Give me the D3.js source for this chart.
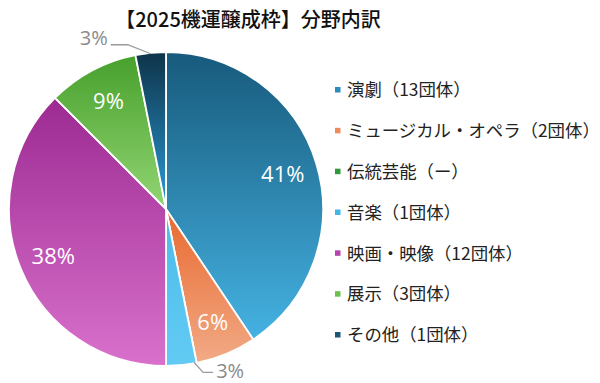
<!DOCTYPE html>
<html><head><meta charset="utf-8">
<script src="https://cdn.jsdelivr.net/npm/d3@7"></script>
<style>body{margin:0;background:#fff;}svg{display:block;font-family:"Noto Sans CJK JP","Noto Sans",sans-serif;}</style>
</head><body>
<svg id="c" width="600" height="383"></svg>
<script>
const title = "【2025機運醸成枠】分野内訳";
const categories = ["演劇","ミュージカル・オペラ","伝統芸能","音楽","映画・映像","展示","その他"];
const legendLabels = ["演劇（13団体）","ミュージカル・オペラ（2団体）","伝統芸能（ー）","音楽（1団体）","映画・映像（12団体）","展示（3団体）","その他（1団体）"];
const values = [13, 2, 0, 1, 12, 3, 1];
const topColors = ["#175a7c","#e8692f","#2f8f2f","#4bbbe8","#9c2a92","#47a02c","#0e3349"];
const bottomColors = ["#45b2e2","#f2aa86","#6cc46c","#62cbf4","#d971cc","#92d574","#2b9bd6"];
const legendColors = ["#2a8bbd","#ef8a5c","#2e9a3a","#3fb6e6","#b444ae","#6cc04e","#1b5674"];

const svg = d3.select("#c");
const cx = 166, cy = 209, r = 157;
const total = d3.sum(values);

svg.append("text").attr("x", 248).attr("y", 27).attr("text-anchor","middle")
  .attr("font-size", 20).attr("font-weight", 500).attr("fill","#111").text(title);

const defs = svg.append("defs");
categories.forEach((c,i)=>{
  const g = defs.append("linearGradient").attr("id","g"+i).attr("x1",0).attr("y1",0).attr("x2",0).attr("y2",1);
  g.append("stop").attr("offset","0%").attr("stop-color",topColors[i]);
  g.append("stop").attr("offset","100%").attr("stop-color",bottomColors[i]);
});

const pie = d3.pie().sort(null).value(d=>d);
const arcs = pie(values);
const arc = d3.arc().innerRadius(0).outerRadius(r);
const labelArc = d3.arc().innerRadius(122*2-r).outerRadius(r); // centroid at 122

const g = svg.append("g").attr("transform",`translate(${cx},${cy})`);
g.selectAll("path").data(arcs).join("path")
  .attr("d", arc).attr("fill",(d,i)=>`url(#g${i})`)
  .attr("stroke","#fff").attr("stroke-width",1.8).attr("stroke-linejoin","round");

arcs.forEach((d,i)=>{
  if (d.value === 0) return;
  const pct = Math.round(d.value/total*100) + "%";
  if (d.value/total > 0.05) {
    const [x,y] = labelArc.centroid(d);
    g.append("text").attr("x",x).attr("y",y).attr("dy","0.36em").attr("text-anchor","middle")
      .attr("font-family","'Open Sans','Noto Sans',sans-serif").attr("font-weight",500)
      .attr("font-size",22).attr("fill","#fff").text(pct);
  } else {
    const mid = (d.startAngle+d.endAngle)/2;
    const up = Math.cos(mid) > 0;
    let pts, tx, ty, anchor;
    if (up) {
      const ex = Math.sin(mid)*(r-1), ey = -Math.cos(mid)*(r-1);
      pts = [[ex,ey],[ex-23,ey-9],[ex-40,ey-9]];
      tx = ex-43; ty = ey-9; anchor = "end";
    } else {
      const a = d.startAngle + 0.015;
      const ex = Math.sin(a)*(r-1), ey = -Math.cos(a)*(r-1);
      pts = [[ex,ey],[ex+9,ey+10],[ex+19,ey+10]];
      tx = ex+22; ty = ey+16; anchor = "start";
    }
    g.append("polyline").attr("points",pts.map(p=>p.join(",")).join(" "))
      .attr("fill","none").attr("stroke","#9a9a9a").attr("stroke-width",1.3);
    g.append("text").attr("x",tx).attr("y",ty)
      .attr("font-family","'Open Sans','Noto Sans',sans-serif")
      .attr("text-anchor", anchor).attr("font-size",20).attr("fill","#8a8a8a").text(pct);
  }
});

const leg = svg.append("g");
const ly = d3.scalePoint().domain(d3.range(categories.length)).range([90, 335]);
categories.forEach((c,i)=>{
  const y = ly(i);
  leg.append("rect").attr("x",335).attr("y",y-3).attr("width",5.5).attr("height",5.5).attr("fill",legendColors[i]);
  leg.append("text").attr("x",347).attr("y",y).attr("dy","0.36em").attr("font-size",17.4).attr("fill","#222").text(legendLabels[i]);
});
</script>
</body></html>
